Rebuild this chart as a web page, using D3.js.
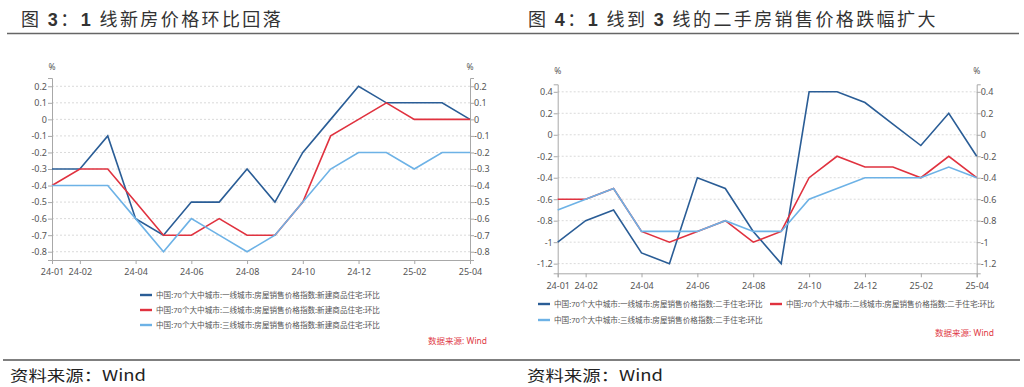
<!DOCTYPE html>
<html lang="zh">
<head>
<meta charset="UTF-8">
<script src="https://d3js.org/d3.v7.min.js"></script>
<style>
  html, body { margin: 0; padding: 0; background: #fff; }
  text { font-family: "Noto Sans", "Noto Sans CJK SC", sans-serif; }
</style>
</head>
<body>
<svg id="page" width="1024" height="387"></svg>
<script>
// months shown on both charts
const months = ["24-01","24-02","24-03","24-04","24-05","24-06","24-07","24-08",
                "24-09","24-10","24-11","24-12","25-01","25-02","25-03","25-04"];
const tickMonths = ["24-01","24-02","24-04","24-06","24-08","24-10","24-12","25-02","25-04"];

// fig 3: new homes, m/m %
const newTier1 = [-0.3,-0.3,-0.1,-0.6,-0.7,-0.5,-0.5,-0.3,-0.5,-0.2,0.0,0.2,0.1,0.1,0.1,0.0];
const newTier2 = [-0.4,-0.3,-0.3,-0.5,-0.7,-0.7,-0.6,-0.7,-0.7,-0.5,-0.1,0.0,0.1,0.0,0.0,0.0];
const newTier3 = [-0.4,-0.4,-0.4,-0.6,-0.8,-0.6,-0.7,-0.8,-0.7,-0.5,-0.3,-0.2,-0.2,-0.3,-0.2,-0.2];
const newTicks = [0.2,0.1,0,-0.1,-0.2,-0.3,-0.4,-0.5,-0.6,-0.7,-0.8];
const newNames = [
  "中国:70个大中城市:一线城市:房屋销售价格指数:新建商品住宅:环比",
  "中国:70个大中城市:二线城市:房屋销售价格指数:新建商品住宅:环比",
  "中国:70个大中城市:三线城市:房屋销售价格指数:新建商品住宅:环比"
];

// fig 4: second-hand homes, m/m %
const usedTier1 = [-1.0,-0.8,-0.7,-1.1,-1.2,-0.4,-0.5,-0.9,-1.2,0.4,0.4,0.3,0.1,-0.1,0.2,-0.2];
const usedTier2 = [-0.6,-0.6,-0.5,-0.9,-1.0,-0.9,-0.8,-1.0,-0.9,-0.4,-0.2,-0.3,-0.3,-0.4,-0.2,-0.4];
const usedTier3 = [-0.7,-0.6,-0.5,-0.9,-0.9,-0.9,-0.8,-0.9,-0.9,-0.6,-0.5,-0.4,-0.4,-0.4,-0.3,-0.4];
const usedTicks = [0.4,0.2,0,-0.2,-0.4,-0.6,-0.8,-1,-1.2];
const usedNames = [
  "中国:70个大中城市:一线城市:房屋销售价格指数:二手住宅:环比",
  "中国:70个大中城市:二线城市:房屋销售价格指数:二手住宅:环比",
  "中国:70个大中城市:三线城市:房屋销售价格指数:二手住宅:环比"
];

const colors = ["#2a5d96", "#e0323f", "#6db2e6"];
const svg = d3.select("#page");
const fmt = d => String(+d.toFixed(1));

function drawChart(c) {
  const g = svg.append("g");
  const x = d3.scaleLinear().domain([0, months.length - 1]).range([c.x0, c.x1]);
  const y = d3.scaleLinear().domain(c.yDomain).range([c.yBottom, c.yTop]);

  // grid
  g.selectAll(".grid").data(c.ticks).enter().append("line")
    .attr("x1", c.x0).attr("x2", c.x1)
    .attr("y1", d => y(d)).attr("y2", d => y(d))
    .attr("stroke", "#dadada").attr("stroke-dasharray", "2,2");

  // y axes, left and right
  const yl = g.append("g").attr("transform", `translate(${c.x0},0)`)
    .call(d3.axisLeft(y).tickValues(c.ticks).tickFormat(fmt).tickSize(4).tickPadding(1));
  const yr = g.append("g").attr("transform", `translate(${c.x1},0)`)
    .call(d3.axisRight(y).tickValues(c.ticks).tickFormat(fmt).tickSize(4).tickPadding(0));
  // x axis
  const xa = g.append("g").attr("transform", `translate(0,${c.yBottom})`)
    .call(d3.axisBottom(x).tickValues(tickMonths.map(m => months.indexOf(m)))
      .tickFormat(i => months[i]).tickSize(4).tickPadding(c.xPad));

  [yl, yr, xa].forEach(a => {
    a.selectAll("path,line").attr("stroke", "#a8a8a8");
    a.selectAll("text").attr("fill", "#555").style("font-size", "9px");
  });

  // % units
  [c.x0, c.x1].forEach(px => {
    g.append("text").attr("x", px).attr("y", c.pctY).attr("text-anchor", "middle")
      .attr("fill", "#555").style("font-size", "8.5px").text("%");
  });

  // lines
  const line = d3.line().x((d, i) => x(i)).y(d => y(d));
  c.series.forEach((s, k) => {
    g.append("path").datum(s).attr("d", line)
      .attr("fill", "none").attr("stroke", colors[k]).attr("stroke-width", 1.6);
  });

  // legend
  c.legend.forEach((p, k) => {
    g.append("line").attr("x1", p[0]).attr("x2", p[0] + 12).attr("y1", p[1]).attr("y2", p[1])
      .attr("stroke", colors[k]).attr("stroke-width", 2.4);
    g.append("text").attr("x", p[0] + 16).attr("y", p[1] + 3)
      .attr("fill", "#555").style("font-size", "7.6px").text(c.names[k]);
  });

  g.append("text").attr("x", c.src[0]).attr("y", c.src[1])
    .attr("fill", "#e03a46").style("font-size", "8.5px").text("数据来源: Wind");

  // title
  const t = g.append("text").attr("x", c.titleX).attr("y", 26)
    .attr("fill", "#333").style("font-size", "18px").style("letter-spacing", "2.4px")
    .style("font-family", "'Noto Sans CJK SC', sans-serif");
  c.title.forEach(part => {
    t.append("tspan").style("font-weight", part[1] ? "700" : "400")
      .style("font-family", part[1] ? "'Liberation Sans', Arial, sans-serif" : null)
      .text(part[0]);
  });
  g.append("line").attr("x1", c.ruleX[0]).attr("x2", c.ruleX[1]).attr("y1", 33.5).attr("y2", 33.5)
    .attr("stroke", "#666").attr("stroke-width", 1.5);

  // footer
  g.append("text").attr("x", c.footX).attr("y", 381)
    .attr("fill", "#222").style("font-size", "15px")
    .style("font-family", "'Noto Sans CJK SC', sans-serif")
    .attr("textLength", 136).attr("lengthAdjust", "spacingAndGlyphs")
    .text("资料来源：Wind");
}

drawChart({
  x0: 52, x1: 470, yTop: 78, yBottom: 260, yDomain: [-0.85, 0.25], ticks: newTicks,
  xPad: 5, pctY: 70, series: [newTier1, newTier2, newTier3], names: newNames,
  legend: [[140, 295], [140, 310], [140, 325]], src: [428, 344],
  titleX: 21, title: [["图 ", 0], ["3", 1], ["：", 0], ["1", 1], [" 线新房价格环比回落", 0]],
  ruleX: [7, 512], footX: 10
});

drawChart({
  x0: 557.7, x1: 976.7, yTop: 84.3, yBottom: 273.3, yDomain: [-1.29, 0.47], ticks: usedTicks,
  xPad: 5, pctY: 74, series: [usedTier1, usedTier2, usedTier3], names: usedNames,
  legend: [[538, 304], [770, 304], [538, 320]], src: [935, 336],
  titleX: 528, title: [["图 ", 0], ["4", 1], ["：", 0], ["1", 1], [" 线到 ", 0], ["3", 1], [" 线的二手房销售价格跌幅扩大", 0]],
  ruleX: [512, 1019], footX: 527
});

// footer rule across the page
svg.append("line").attr("x1", 3).attr("x2", 1020).attr("y1", 360).attr("y2", 360)
  .attr("stroke", "#555").attr("stroke-width", 1.5);
</script>
</body>
</html>
